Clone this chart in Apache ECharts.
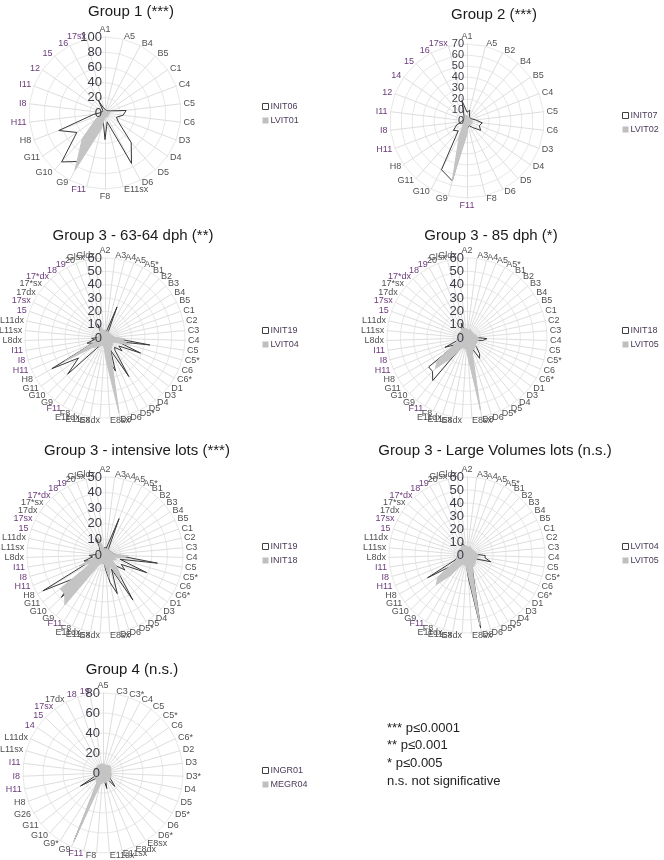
<!DOCTYPE html>
<html><head><meta charset="utf-8">
<script src="https://cdn.jsdelivr.net/npm/echarts@6/dist/echarts.min.js"></script>
<style>html,body{margin:0;padding:0;background:#fff}#c{width:664px;height:860px}</style>
</head><body><div id="c"></div>
<script>
// ---------- categories ----------
const cats1 = ['A1','A5','B4','B5','C1','C4','C5','C6','D3','D4','D5','D6','E11sx','F8','F11','G9','G10','G11','H8','H11','I8','I11','12','15','16','17sx'];
const cats2 = ['A1','A5','B2','B4','B5','C4','C5','C6','D3','D4','D5','D6','F8','F11','G9','G10','G11','H8','H11','I8','I11','12','14','15','16','17sx'];
const cats3 = ['A2','A3','A4','A5','A5*','B1','B2','B3','B4','B5','C1','C2','C3','C4','C5','C5*','C6','C6*','D1','D3','D4','D5','D5*','D6','D8','E8sx','E8dx','E11sx','E11dx','F8','F11','G9','G10','G11','H8','H11','I8','I11','L8dx','L11sx','L11dx','15','17sx','17dx','17*sx','17*dx','18','19','20','Glsx','Gldx'];
const cats4 = ['A5','C3','C3*','C4','C5','C5*','C6','C6*','D2','D3','D3*','D4','D5','D5*','D6','D6*','E8sx','E8dx','E11sx','E11dx','F8','F11','G9','G9*','G10','G11','G26','H8','H11','I8','I11','L11sx','L11dx','14','15','17sx','17dx','18','19'];

// ---------- series values ----------
const INIT06 = [5,4,4,4,5,8,28,24,16,22,52,75,12,35,10,72,86,45,65,15,5,5,3,4,18,6];
const LVIT01 = [4,3,3,3,3,4,6,6,5,5,6,6,5,6,22,85,45,15,8,5,4,3,3,3,4,4];
const INIT07 = [8,10,5,4,4,5,8,14,12,15,8,5,5,8,56,50,12,15,10,5,4,3,3,4,6,19];
const LVIT02 = [5,4,3,3,3,3,4,5,5,5,4,4,4,12,56,15,6,4,4,3,3,3,3,3,4,5];
const INIT19 = [5,4,6,25,5,4,4,4,4,4,5,5,6,8,34,10,29,12,16,10,12,34,10,26,18,10,6,5,5,5,6,10,39,25,46,10,14,8,10,5,4,4,4,4,4,5,6,12,5,4,4];
const INIT18 = [4,4,4,5,4,4,4,4,4,4,5,5,6,15,12,6,8,6,6,10,15,18,8,10,15,8,6,5,6,6,8,41,36,36,10,18,8,6,6,5,5,4,4,4,4,4,5,8,12,5,4];
const LVIT04 = [6,5,5,6,5,5,5,5,5,5,6,6,7,14,14,19,8,7,7,8,8,9,10,15,57,18,8,6,6,6,7,8,10,12,35,10,8,7,6,6,5,5,5,5,5,5,6,8,10,6,6];
const LVIT05 = [7,6,6,7,6,6,6,6,6,6,7,7,8,9,9,8,8,8,8,9,9,10,10,14,55,15,9,8,8,8,10,20,33,28,12,9,8,8,7,7,7,7,7,7,7,7,7,8,8,7,7];
const INGR01 = [6,5,5,5,6,6,6,6,5,6,5,6,8,8,10,18,6,6,16,5,5,6,72,8,6,8,26,8,6,5,5,5,5,5,5,5,5,5,6];
const MEGR04 = [9,9,8,9,9,10,9,9,8,8,8,9,8,9,9,10,9,9,10,9,10,12,75,12,10,9,9,9,9,8,9,9,9,8,9,9,9,9,9];

// ---------- axis tick settings ----------
const axisMax = [100, 70, 60, 60, 50, 60, 80];
const axisStep = [20, 10, 10, 10, 10, 10, 20];

const titles = ['Group 1 (***)','Group 2 (***)','Group 3 - 63-64 dph (**)','Group 3 - 85 dph (*)','Group 3 - intensive lots (***)','Group 3 - Large Volumes lots (n.s.)','Group 4 (n.s.)'];
const pText = ['*** p\u22640.0001','** p\u22640.001','* p\u22640.005','n.s. not significative'];

const purple = ['F11','H11','I8','I11','12','14','15','16','17sx','18','19','17*dx'];

const charts = [
  {cats:cats1, line:['INIT06',INIT06], fill:['LVIT01',LVIT01], cx:105, cy:113, r:76, tx:131, ty:12, lx:257, ly:97, fs:13},
  {cats:cats2, line:['INIT07',INIT07], fill:['LVIT02',LVIT02], cx:467, cy:121, r:77, tx:494, ty:15, lx:617, ly:106, fs:11},
  {cats:cats3, line:['INIT19',INIT19], fill:['LVIT04',LVIT04], cx:105, cy:338, r:80, tx:133, ty:236, lx:257, ly:321, fs:13},
  {cats:cats3, line:['INIT18',INIT18], fill:['LVIT05',LVIT05], cx:467, cy:338, r:80, tx:491, ty:236, lx:617, ly:321, fs:13},
  {cats:cats3, line:['INIT19',INIT19], fill:['INIT18',INIT18], cx:105, cy:555, r:78, tx:137, ty:451, lx:257, ly:537, fs:13},
  {cats:cats3, line:['LVIT04',LVIT04], fill:['LVIT05',LVIT05], cx:467, cy:555, r:78, tx:495, ty:451, lx:617, ly:537, fs:13},
  {cats:cats4, line:['INGR01',INGR01], fill:['MEGR04',MEGR04], cx:103, cy:773, r:80, tx:132, ty:670, lx:257, ly:761, fs:13}
];

// ECharts radar runs counter-clockwise; reorder so categories run clockwise
const cw = a => [a[0]].concat(a.slice(1).reverse());

const FONT = 'Arial, "Liberation Sans", sans-serif';
const option = {
  animation:false,
  backgroundColor:'#fff',
  radar: charts.map((c,i) => ({
    center:[c.cx,c.cy], radius:c.r, startAngle:90,
    splitNumber: axisMax[i]/axisStep[i], shape:'polygon',
    indicator: cw(c.cats).map(n => ({name:n, min:0, max:axisMax[i]})),
    nameGap:3,
    axisName:{color:'#505050', fontSize:9, fontFamily:FONT,
      formatter: n => purple.includes(n) ? '{p|'+n+'}' : n,
      rich:{p:{color:'#6b3b7b', fontSize:9, fontFamily:FONT}}},
    splitLine:{lineStyle:{color:'#e8e8e8', width:1}},
    splitArea:{show:false},
    axisLine:{lineStyle:{color:'#dedede', width:1}},
    axisLabel:{show:false}
  })),
  polar: charts.map(c => ({center:[c.cx,c.cy], radius:c.r})),
  angleAxis: charts.map((c,i) => ({polarIndex:i, type:'value', min:0, max:360, startAngle:90, show:false})),
  radiusAxis: charts.map((c,i) => ({polarIndex:i, type:'value', min:0, max:axisMax[i], interval:axisStep[i], z:20,
    axisLine:{show:false}, axisTick:{show:false}, splitLine:{show:false},
    axisLabel:{fontSize:c.fs, color:'#3c3c46', margin:3, fontFamily:FONT, showMinLabel:true, showMaxLabel:true, hideOverlap:false}})),
  legend: charts.map(c => ({
    left:c.lx, top:c.ly, orient:'vertical', itemGap:5, itemWidth:6, itemHeight:6, selectedMode:false,
    textStyle:{fontSize:9, color:'#4a3a5a', fontFamily:FONT, padding:[0,0,0,-3]},
    data:[
      {name:c.line[0], icon:'rect', itemStyle:{color:'#ffffff', borderColor:'#404040', borderWidth:1}},
      {name:c.fill[0], icon:'rect', itemStyle:{color:'#bfbfbf', borderWidth:0}}
    ]})),
  series: charts.map((c,i) => ({
    type:'radar', radarIndex:i, symbol:'none', silent:true, z:2,
    data:[
      {name:c.line[0], value:cw(c.line[1]), lineStyle:{color:'#3a3a3a', width:1}, itemStyle:{color:'#3a3a3a'}},
      {name:c.fill[0], value:cw(c.fill[1]), lineStyle:{color:'#c4c4c4', width:1}, itemStyle:{color:'#c4c4c4'}, areaStyle:{color:'#c4c4c4', opacity:1}}
    ]})),
  graphic: charts.map((c,i) => ({type:'text', x:c.tx, y:c.ty, silent:true,
      style:{text:titles[i], fill:'#1a1a1a', font:'15px '+FONT, textAlign:'center', textVerticalAlign:'middle'}}))
    .concat(pText.map((t,k) => ({type:'text', x:387, y:728 + k*17.7, silent:true,
      style:{text:t, fill:'#222', font:'13px '+FONT, textAlign:'left', textVerticalAlign:'middle'}})))
};
const chart = echarts.init(document.getElementById('c'), null, {renderer:'canvas'});
chart.setOption(option);
</script></body></html>
